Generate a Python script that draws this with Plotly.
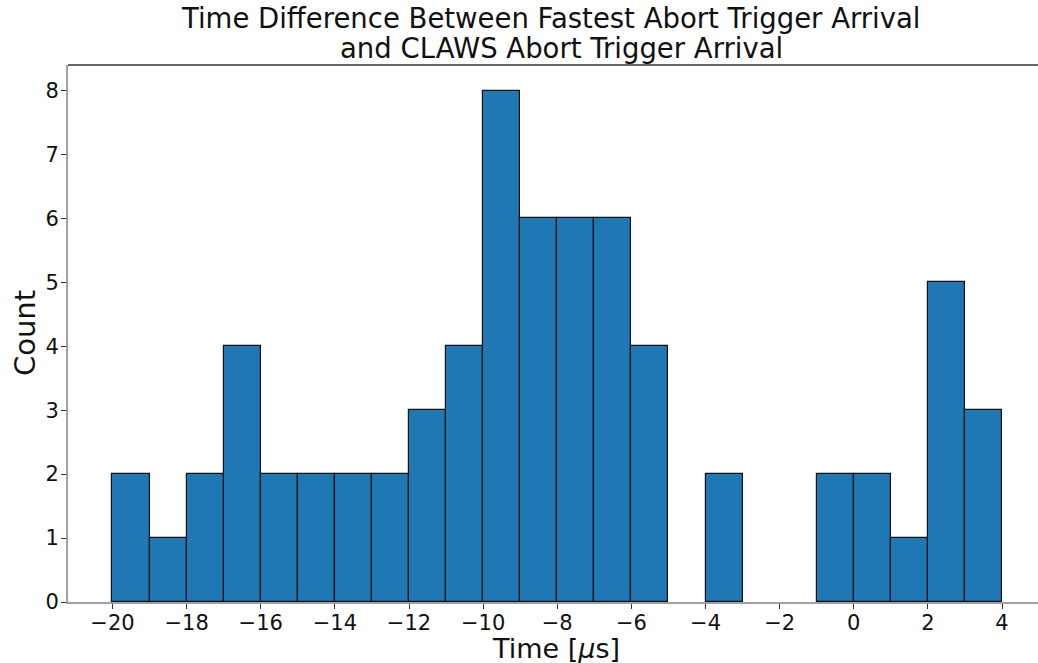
import plotly.graph_objects as go

bin_left_edges = list(range(-20, 4))
counts = [2, 1, 2, 4, 2, 2, 2, 2, 3, 4, 8, 6, 6, 6, 4, 0, 2, 0, 0, 2, 2, 1, 5, 3]
x_ticks = list(range(-20, 5, 2))
y_ticks = list(range(0, 9))
title_lines = ["Time Difference Between Fastest Abort Trigger Arrival",
               "and CLAWS Abort Trigger Arrival"]

centers = [e + 0.5 for e in bin_left_edges]
edge_widths = [1.2 if c > 0 else 0 for c in counts]

fig = go.Figure()
fig.add_trace(go.Bar(
    x=centers, y=counts, width=1,
    marker=dict(color="#1f77b4", line=dict(color="#111111", width=edge_widths)),
))

font = "DejaVu Sans"
L, T, B, W, H = 68, 65, 61, 1038, 663
plot_h = H - T - B
plot_w = W - L

def py(p):
    return (H - B - p) / plot_h

def px(p):
    return (p - L) / plot_w

fig.update_layout(
    width=W, height=H,
    margin=dict(l=L, r=0, t=T, b=B),
    plot_bgcolor="white", paper_bgcolor="white",
    showlegend=False,
    bargap=0,
    xaxis=dict(
        range=[-21.2, 4.97], automargin=False,
        tickvals=x_ticks,
        ticktext=[str(v).replace("-", "\u2212") for v in x_ticks],
        ticks="outside", ticklen=5, tickwidth=1, tickcolor="#333333",
        ticklabelstandoff=-4,
        showline=True, linecolor="#a0a0a0", linewidth=2,
        showgrid=False, zeroline=False,
        tickfont=dict(family=font, size=21, color="#111111"),
    ),
    yaxis=dict(
        range=[0, 8.4], automargin=False,
        tickvals=y_ticks,
        ticks="outside", ticklen=5, tickwidth=1, tickcolor="#333333",
        ticklabelstandoff=-2,
        showline=True, linecolor="#a0a0a0", linewidth=2,
        showgrid=False, zeroline=False,
        tickfont=dict(family=font, size=21, color="#111111"),
    ),
)
fig.add_shape(type="line", xref="paper", yref="paper", x0=0, x1=1, y0=1, y1=1,
              line=dict(color="#333333", width=1.5))

tf = dict(family=font, size=27.5, color="#111111")
fig.add_annotation(text=title_lines[0], xref="paper", yref="paper", x=px(551), y=py(18),
                   xanchor="center", yanchor="middle", showarrow=False, font=tf)
fig.add_annotation(text=title_lines[1], xref="paper", yref="paper", x=px(561), y=py(48),
                   xanchor="center", yanchor="middle", showarrow=False, font=tf)
fig.add_annotation(text="Count", xref="paper", yref="paper", x=px(25), y=py(333),
                   xanchor="center", yanchor="middle", textangle=-90, showarrow=False,
                   font=dict(family=font, size=29, color="#111111"))
fig.add_annotation(text="Time [<i>μ</i>s]", xref="paper", yref="paper", x=px(556), y=py(648),
                   xanchor="center", yanchor="middle", showarrow=False,
                   font=dict(family=font, size=27, color="#111111"))

fig.write_html("out.html")
